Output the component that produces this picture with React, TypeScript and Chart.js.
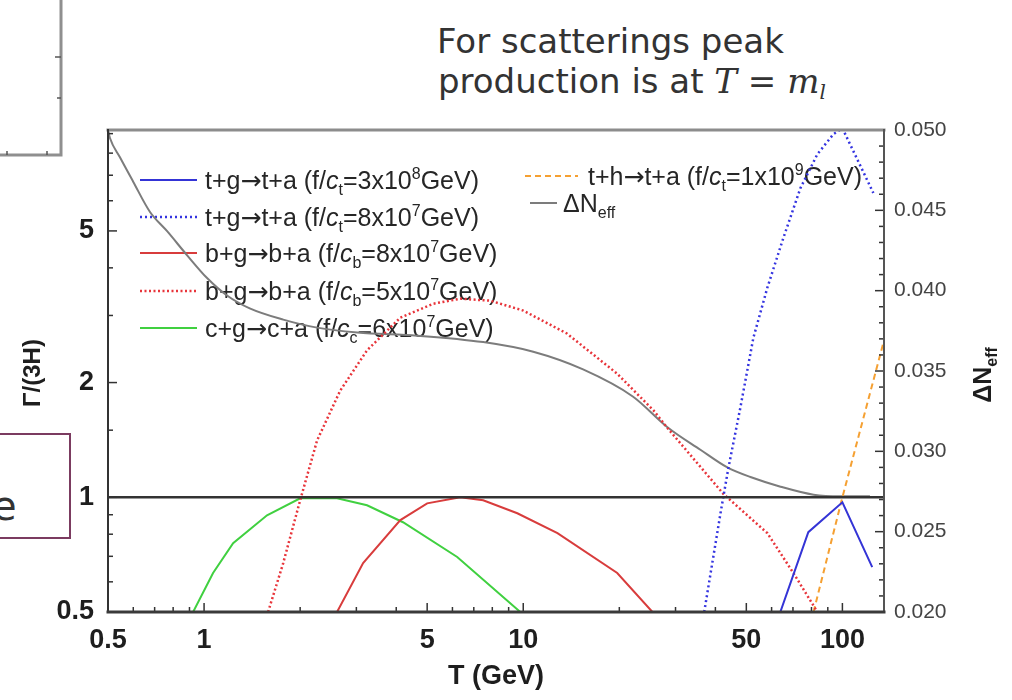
import React, { useEffect, useRef } from "react";
import { Chart, registerables } from "chart.js";

Chart.register(...registerables);

// ---- axis ticks ----
const T_TICKS = [0.5, 1, 5, 10, 50, 100];
const T_MINOR = [0.6, 0.7, 0.8, 0.9, 2, 3, 4, 6, 7, 8, 9, 20, 30, 40, 60, 70, 80, 90];
const GAMMA_TICKS = [0.5, 1, 2, 5];
const GAMMA_MINOR = [0.6, 0.7, 0.8, 0.9, 1.5, 3, 4, 6, 7, 8, 9];
const DNEFF_TICKS = [0.02, 0.025, 0.03, 0.035, 0.04, 0.045, 0.05];

// ---- series: temperature T (GeV) and Γ/(3H) ----
const T_TG_3E8 = [63.9, 78.2, 100, 124];
const G_TG_3E8 = [0.5, 0.81, 0.97, 0.656];

const T_TG_8E7 = [36.9, 41.5, 43.9, 47.9, 52.6, 58.2, 65.3, 73.9, 83.5, 93.7, 100, 125];
const G_TG_8E7 = [0.5, 0.908, 1.19, 1.72, 2.62, 3.55, 4.79, 6.48, 7.95, 8.97, 9.3, 6.29];

const T_BG_8E7 = [2.61, 3.15, 4.12, 5.0, 6.35, 7.49, 9.58, 12.8, 19.7, 25.4];
const G_BG_8E7 = [0.5, 0.672, 0.871, 0.964, 1.0, 0.982, 0.908, 0.805, 0.633, 0.5];

const T_BG_5E7 = [1.587, 1.77, 2.0, 2.26, 2.67, 3.24, 4.12, 5.22, 6.35, 7.88, 10.0, 13.7, 19.7, 25.6, 28.3, 42.4, 58.2, 70.2, 83.5];
const G_BG_5E7 = [0.5, 0.672, 0.982, 1.41, 1.905, 2.43, 2.96, 3.22, 3.32, 3.28, 3.09, 2.69, 2.11, 1.69, 1.52, 1.02, 0.805, 0.633, 0.5];

const T_CG_6E7 = [0.924, 1.067, 1.233, 1.575, 2.0, 2.61, 3.24, 4.2, 6.21, 9.79];
const G_CG_6E7 = [0.5, 0.633, 0.758, 0.897, 0.994, 0.994, 0.953, 0.86, 0.697, 0.5];

const T_TH_1E9 = [81.2, 100, 135];
const G_TH_1E9 = [0.5, 1.0, 2.58];

// ΔN_eff on the right-hand axis
const T_DNEFF = [0.5, 0.507, 0.545, 0.599, 0.677, 0.766, 0.885, 1.02, 1.18, 1.39, 1.77, 2.26, 3.02, 4.65, 7.49, 10.75, 15.4, 22.1, 28.3, 35.9, 43.6, 51.5, 64.0, 81.2, 98.6, 122];
const V_DNEFF = [0.05, 0.0495, 0.0483, 0.0468, 0.0449, 0.0437, 0.0422, 0.0408, 0.0397, 0.0389, 0.0382, 0.0377, 0.0374, 0.0372, 0.0368, 0.0362, 0.0351, 0.0334, 0.0315, 0.0301, 0.029, 0.0284, 0.0278, 0.0273, 0.0272, 0.0272];

// Γ/(3H) = 1 reference line
const T_UNITY = [0.5, 135];
const G_UNITY = [1, 1];

type Seg = { t: string; s?: "i" | "sub" | "sup" | "a" };

const SANS = '"Liberation Sans", Arial, Helvetica, sans-serif';
const ARROW_FONT = '"DejaVu Sans", sans-serif';

const pts = (xs: number[], ys: number[]) => xs.map((x, i) => ({ x, y: ys[i] }));

const process = (a: string, b: string, c: string): Seg[] => [
  { t: `${a}+${b}` },
  { t: "\u2192", s: "a" },
  { t: `${a}+${c} (f/` },
];

const SERIES = [
  {
    key: "tg3e8",
    color: "#3434d6",
    dash: [] as number[],
    width: 2,
    data: pts(T_TG_3E8, G_TG_3E8),
    axis: "y",
    label: [...process("t", "g", "a"), { t: "c", s: "i" }, { t: "t", s: "sub" }, { t: "=3x10" }, { t: "8", s: "sup" }, { t: "GeV)" }] as Seg[],
  },
  {
    key: "tg8e7",
    color: "#3434e0",
    dash: [2, 3],
    width: 2.5,
    data: pts(T_TG_8E7, G_TG_8E7),
    axis: "y",
    label: [...process("t", "g", "a"), { t: "c", s: "i" }, { t: "t", s: "sub" }, { t: "=8x10" }, { t: "7", s: "sup" }, { t: "GeV)" }] as Seg[],
  },
  {
    key: "bg8e7",
    color: "#d83c3c",
    dash: [] as number[],
    width: 2,
    data: pts(T_BG_8E7, G_BG_8E7),
    axis: "y",
    label: [...process("b", "g", "a"), { t: "c", s: "i" }, { t: "b", s: "sub" }, { t: "=8x10" }, { t: "7", s: "sup" }, { t: "GeV)" }] as Seg[],
  },
  {
    key: "bg5e7",
    color: "#e8343a",
    dash: [2, 2.5],
    width: 2.5,
    data: pts(T_BG_5E7, G_BG_5E7),
    axis: "y",
    label: [...process("b", "g", "a"), { t: "c", s: "i" }, { t: "b", s: "sub" }, { t: "=5x10" }, { t: "7", s: "sup" }, { t: "GeV)" }] as Seg[],
  },
  {
    key: "cg6e7",
    color: "#40d040",
    dash: [] as number[],
    width: 2,
    data: pts(T_CG_6E7, G_CG_6E7),
    axis: "y",
    label: [...process("c", "g", "a"), { t: "c", s: "i" }, { t: "c", s: "sub" }, { t: "=6x10" }, { t: "7", s: "sup" }, { t: "GeV)" }] as Seg[],
  },
  {
    key: "th1e9",
    color: "#f5a032",
    dash: [6, 4],
    width: 2,
    data: pts(T_TH_1E9, G_TH_1E9),
    axis: "y",
    label: [...process("t", "h", "a"), { t: "c", s: "i" }, { t: "t", s: "sub" }, { t: "=1x10" }, { t: "9", s: "sup" }, { t: "GeV)" }] as Seg[],
  },
  {
    key: "dneff",
    color: "#7c7c7c",
    dash: [] as number[],
    width: 2,
    data: pts(T_DNEFF, V_DNEFF),
    axis: "y2",
    label: [{ t: "\u0394N" }, { t: "eff", s: "sub" }] as Seg[],
  },
];

function segFont(seg: Seg, size: number, bold: boolean) {
  const w = bold ? "bold " : "";
  if (seg.s === "a") return `${w}${size}px ${ARROW_FONT}`;
  if (seg.s === "i") return `italic ${w}${size}px ${SANS}`;
  if (seg.s === "sub" || seg.s === "sup") return `${w}${Math.round(size * 0.62)}px ${SANS}`;
  return `${w}${size}px ${SANS}`;
}

function richWidth(ctx: CanvasRenderingContext2D, segs: Seg[], size: number, bold = false) {
  let w = 0;
  for (const s of segs) {
    ctx.font = segFont(s, size, bold);
    w += ctx.measureText(s.t).width;
  }
  return w;
}

function drawRich(ctx: CanvasRenderingContext2D, segs: Seg[], x: number, baseline: number, size: number, bold = false) {
  let cx = x;
  for (const s of segs) {
    ctx.font = segFont(s, size, bold);
    let dy = 0;
    if (s.s === "sub") dy = size * 0.22;
    if (s.s === "sup") dy = -size * 0.4;
    ctx.fillText(s.t, cx, baseline + dy);
    cx += ctx.measureText(s.t).width;
  }
}

// legend layout: [series key, row centre y, sample x0, sample x1, text x]
const LEGEND_LAYOUT: [string, number, number, number, number][] = [
  ["tg3e8", 180, 140, 197, 205],
  ["tg8e7", 217, 140, 197, 205],
  ["bg8e7", 253, 140, 197, 205],
  ["bg5e7", 291, 140, 197, 205],
  ["cg6e7", 328, 140, 197, 205],
  ["th1e9", 176, 525, 578, 588],
  ["dneff", 203, 530, 557, 563],
];

const legendPlugin = {
  id: "richLegend",
  beforeDatasetsDraw(chart: any) {
    const ctx: CanvasRenderingContext2D = chart.ctx;
    ctx.save();
    const size = 25;
    for (const [key, cy, x0, x1, tx] of LEGEND_LAYOUT) {
      const s = SERIES.find((q) => q.key === key)!;
      ctx.strokeStyle = s.color;
      ctx.lineWidth = s.width;
      ctx.setLineDash(s.dash);
      ctx.beginPath();
      ctx.moveTo(x0, cy);
      ctx.lineTo(x1, cy);
      ctx.stroke();
      ctx.setLineDash([]);
      ctx.fillStyle = "#262626";
      ctx.textBaseline = "alphabetic";
      ctx.textAlign = "left";
      drawRich(ctx, s.label, tx, cy + size * 0.36, size);
    }
    ctx.restore();
  },
};

const framePlugin = {
  id: "mmaFrame",
  afterDatasetsDraw(chart: any) {
    const ctx: CanvasRenderingContext2D = chart.ctx;
    const a = chart.chartArea;
    const { x, y, y2 } = chart.scales;
    ctx.save();
    ctx.strokeStyle = "#333";
    ctx.lineWidth = 1.5;
    const tick = (x0: number, y0: number, x1: number, y1: number) => {
      ctx.beginPath();
      ctx.moveTo(x0, y0);
      ctx.lineTo(x1, y1);
      ctx.stroke();
    };
    for (const v of T_TICKS) {
      const px = x.getPixelForValue(v);
      tick(px, a.bottom, px, a.bottom - 9);
    }
    for (const v of T_MINOR) {
      const px = x.getPixelForValue(v);
      tick(px, a.bottom, px, a.bottom - 5);
    }
    for (const v of GAMMA_TICKS) {
      const py = y.getPixelForValue(v);
      tick(a.left, py, a.left + 9, py);
    }
    for (const v of GAMMA_MINOR) {
      const py = y.getPixelForValue(v);
      tick(a.left, py, a.left + 5, py);
    }
    for (let k = 20; k <= 50; k++) {
      const py = y2.getPixelForValue(k / 1000);
      tick(a.right, py, a.right - (k % 5 === 0 ? 9 : 5), py);
    }
    // frame edges
    ctx.lineCap = "square";
    ctx.strokeStyle = "#8c8c8c";
    ctx.lineWidth = 3;
    tick(a.left, a.top, a.right, a.top);
    ctx.strokeStyle = "#333";
    ctx.lineWidth = 2;
    tick(a.left, a.top, a.left, a.bottom);
    ctx.strokeStyle = "#555";
    tick(a.right, a.top, a.right, a.bottom);
    ctx.strokeStyle = "#3a3a3a";
    ctx.lineWidth = 3;
    tick(a.left, a.bottom, a.right, a.bottom);
    ctx.restore();
  },
  afterDraw(chart: any) {
    const ctx: CanvasRenderingContext2D = chart.ctx;
    const a = chart.chartArea;
    ctx.save();
    ctx.fillStyle = "#1e1e1e";
    ctx.textAlign = "center";
    ctx.textBaseline = "middle";
    ctx.font = `bold 27px ${SANS}`;
    ctx.fillText("T (GeV)", (a.left + a.right) / 2, 677);

    ctx.save();
    ctx.translate(33, 373);
    ctx.rotate(-Math.PI / 2);
    ctx.font = `bold 24px ${SANS}`;
    ctx.fillText("\u0393/(3H)", 0, 0);
    ctx.restore();

    ctx.save();
    ctx.translate(983, 375);
    ctx.rotate(-Math.PI / 2);
    const segs: Seg[] = [{ t: "\u0394N" }, { t: "eff", s: "sub" }];
    const w = richWidth(ctx, segs, 25, true);
    ctx.textAlign = "left";
    ctx.textBaseline = "alphabetic";
    drawRich(ctx, segs, -w / 2, 8, 25, true);
    ctx.restore();
    ctx.restore();
  },
};

export default function App() {
  const canvasRef = useRef<HTMLCanvasElement | null>(null);

  useEffect(() => {
    const canvas = canvasRef.current;
    if (!canvas) return;

    const datasets: any[] = SERIES.map((s, i) => ({
      label: s.key,
      data: s.data,
      yAxisID: s.axis,
      borderColor: s.color,
      borderWidth: s.width,
      borderDash: s.dash,
      pointRadius: 0,
      fill: false,
      tension: 0,
      cubicInterpolationMode: s.key === "dneff" ? "monotone" : "default",
      order: s.key === "dneff" ? 8 : i + 1,
    }));
    datasets.push({
      label: "unity",
      data: pts(T_UNITY, G_UNITY),
      yAxisID: "y",
      borderColor: "#333",
      borderWidth: 2.5,
      pointRadius: 0,
      fill: false,
      order: 0,
    });

    const chart = new Chart(canvas, {
      type: "line",
      data: { datasets },
      plugins: [legendPlugin, framePlugin],
      options: {
        responsive: false,
        devicePixelRatio: 1,
        animation: false,
        parsing: true,
        layout: { padding: { top: 130, left: 0, right: 0, bottom: 0 } },
        plugins: {
          legend: { display: false },
          tooltip: { enabled: false },
          title: { display: false },
        },
        scales: {
          x: {
            type: "logarithmic",
            position: "bottom",
            min: 0.5,
            max: 135,
            afterBuildTicks: (s: any) => {
              s.ticks = T_TICKS.map((v) => ({ value: v }));
            },
            afterFit: (s: any) => {
              s.height = 88;
            },
            grid: { display: false },
            border: { display: false },
            ticks: {
              autoSkip: false,
              maxRotation: 0,
              minRotation: 0,
              padding: 4,
              color: "#1e1e1e",
              font: { family: SANS, size: 27, weight: "bold" },
              callback: (v: any) => String(v),
            },
          },
          y: {
            type: "logarithmic",
            position: "left",
            min: 0.5,
            max: 9.2,
            afterBuildTicks: (s: any) => {
              s.ticks = GAMMA_TICKS.map((v) => ({ value: v }));
            },
            afterFit: (s: any) => {
              s.width = 108;
            },
            grid: { display: false },
            border: { display: false },
            ticks: {
              autoSkip: false,
              padding: 6,
              color: "#1e1e1e",
              font: { family: SANS, size: 27, weight: "bold" },
              callback: (v: any) => String(v),
            },
          },
          y2: {
            type: "linear",
            position: "right",
            min: 0.02,
            max: 0.05,
            afterBuildTicks: (s: any) => {
              s.ticks = DNEFF_TICKS.map((v) => ({ value: v }));
            },
            afterFit: (s: any) => {
              s.width = 128;
            },
            grid: { display: false },
            border: { display: false },
            ticks: {
              autoSkip: false,
              padding: 2,
              color: "#444",
              font: { family: SANS, size: 21 },
              callback: (v: any) => Number(v).toFixed(3),
            },
          },
        },
      } as any,
    });

    return () => chart.destroy();
  }, []);

  return (
    <div
      style={{
        position: "fixed",
        left: 0,
        top: 0,
        width: 1012,
        height: 700,
        background: "#fff",
        overflow: "hidden",
      }}
    >
      <svg width={1012} height={700} style={{ position: "absolute", left: 0, top: 0 }}>
        {/* corner of a neighbouring plot frame */}
        <polyline points="0,155 61,155 61,0" fill="none" stroke="#8f8f8f" strokeWidth={3} />
        <g stroke="#555" strokeWidth={1.5}>
          <line x1={55} y1={57} x2={61} y2={57} />
          <line x1={57} y1={98} x2={61} y2={98} />
          <line x1={7} y1={151} x2={7} y2={155} />
          <line x1={47} y1={151} x2={47} y2={155} />
        </g>
        {/* boxed label on the slide */}
        <rect x={-10} y={434} width={80} height={104} fill="none" stroke="#7b3b60" strokeWidth={2} />
        <text x={-8} y={520} fontFamily="DejaVu Sans" fontSize={40} fill="#333">
          e
        </text>
        <text fontFamily="DejaVu Sans" fontSize={34} fill="#333">
          <tspan x={437} y={53}>
            For scatterings peak
          </tspan>
          <tspan x={438} y={93}>
            {"production is at "}
          </tspan>
          <tspan fontFamily="DejaVu Serif" fontStyle="italic" y={93}>
            T
          </tspan>
          <tspan fontFamily="DejaVu Serif" y={93}>
            {" = "}
          </tspan>
          <tspan fontFamily="DejaVu Serif" fontStyle="italic" y={93}>
            m
          </tspan>
          <tspan fontFamily="DejaVu Serif" fontStyle="italic" fontSize={20} y={99}>
            l
          </tspan>
        </text>
      </svg>
      <canvas
        ref={canvasRef}
        width={1012}
        height={700}
        style={{ position: "absolute", left: 0, top: 0, width: 1012, height: 700 }}
      />
    </div>
  );
}
